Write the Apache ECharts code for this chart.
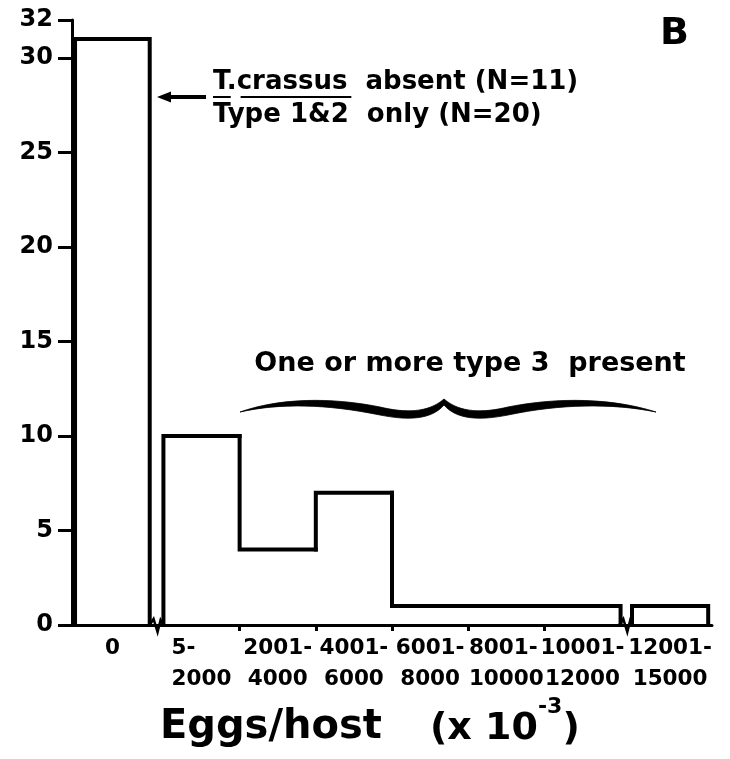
<!DOCTYPE html>
<html><head><meta charset="utf-8">
<script src="https://cdn.jsdelivr.net/npm/echarts@6/dist/echarts.min.js"></script>
<style>html,body{margin:0;padding:0;background:#fff}#c{width:730px;height:759px}</style>
</head><body><div id="c"></div>
<script>
// ---- data ----
const labelTop = ['0', '5-', '2001-', '4001-', '6001-', '8001-', '10001-', '12001-'];
const labelBottom = ['', '2000', '4000', '6000', '8000', '10000', '12000', '15000'];
const counts = [31, 10, 4, 7, 1, 1, 1, 1];
const segment = [0, 1, 1, 1, 1, 1, 1, 2];   // contiguous pieces between axis breaks
const yTickValues = [0, 5, 10, 15, 20, 25, 30, 32];

// ---- layout helpers (bin index -> axis units, with gaps at the axis breaks) ----
function binLeft(i) { return i === 0 ? 0.04 : (i < 7 ? i + 0.2 : i + 0.35); }
function binRight(i) { return i === 0 ? 1.02 : binLeft(i) + 1; }
function binCenter(i) { return (binLeft(i) + binRight(i)) / 2; }

const FONT = '"DejaVu Sans", sans-serif';
const n = counts.length;
const seriesData = counts.map((v, i) => {
  const prevSame = i > 0 && segment[i - 1] === segment[i];
  const nextSame = i < n - 1 && segment[i + 1] === segment[i];
  return [i, v, prevSame ? counts[i - 1] : 0, nextSame ? 1 : 0];
});
const centers = counts.map((_, i) => binCenter(i));

const chart = echarts.init(document.getElementById('c'), null, { renderer: 'canvas' });

const ctx = document.createElement('canvas').getContext('2d');
function tw(s, size) { ctx.font = 'bold ' + size + 'px "DejaVu Sans"'; return ctx.measureText(s).width; }

const annSize = 26;
const annX = 213;
const wT = tw('T', annSize), wDot = tw('.', annSize), wCr = tw('crassus', annSize);

const bracePath =
  'M240,412 C280,398 330,397 380,407 C405,413 428,413 444,399 ' +
  'C460,413 483,413 508,407 C558,397 612,398 656,412 ' +
  'C612,403 560,404 508,415 C478,421 456,419 444,405 ' +
  'C432,419 410,421 380,415 C326,404 280,403 240,412 Z';

const labelFont = 21.5;
const option = {
  animation: false,
  backgroundColor: '#fff',
  grid: { left: 72, right: 18, top: 20, bottom: 134, containLabel: false },
  xAxis: {
    type: 'value', min: 0, max: 8.4,
    axisLine: { show: true, onZero: false, lineStyle: { color: '#000', width: 3 } },
    axisTick: { show: true, customValues: [2.2, 3.2, 4.2, 5.2, 6.2], length: 6, lineStyle: { color: '#000', width: 3 } },
    splitLine: { show: false },
    axisLabel: {
      customValues: centers,
      hideOverlap: false,
      showMinLabel: true, showMaxLabel: true,
      margin: 8,
      formatter: function (val) {
        let idx = 0, best = 1e9;
        centers.forEach((c, i) => { const d = Math.abs(c - val); if (d < best) { best = d; idx = i; } });
        if (!labelBottom[idx]) return '{c|' + labelTop[idx] + '}';
        return '{t|' + labelTop[idx] + '}\n{b|' + labelBottom[idx] + '}';
      },
      rich: {
        c: { fontFamily: FONT, fontWeight: 'bold', fontSize: labelFont, color: '#000', lineHeight: 31 },
        t: { fontFamily: FONT, fontWeight: 'bold', fontSize: labelFont, color: '#000', lineHeight: 31, align: 'left' },
        b: { fontFamily: FONT, fontWeight: 'bold', fontSize: labelFont, color: '#000', lineHeight: 31 }
      }
    }
  },
  yAxis: {
    type: 'value', min: 0, max: 32, interval: 5,
    axisLine: { show: true, lineStyle: { color: '#000', width: 3 } },
    axisTick: { show: true, customValues: yTickValues, length: 14, lineStyle: { color: '#000', width: 3 } },
    splitLine: { show: false },
    axisLabel: {
      customValues: yTickValues, margin: 19,
      fontFamily: FONT, fontWeight: 'bold', fontSize: 24, color: '#000'
    }
  },
  series: [{
    type: 'custom',
    data: seriesData,
    encode: { x: 0, y: 1 },
    clip: false,
    renderItem: function (params, api) {
      const i = api.value(0);
      const v = api.value(1);
      const prevV = api.value(2);
      const nextSame = api.value(3) === 1;
      const xl = binLeft(i), xr = binRight(i);
      const pts = [api.coord([xl, prevV]), api.coord([xl, v]), api.coord([xr, v])];
      if (!nextSame) pts.push(api.coord([xr, 0]));
      return {
        type: 'polyline',
        shape: { points: pts },
        style: { stroke: '#000', lineWidth: 4, fill: null, lineJoin: 'miter', lineCap: 'square' }
      };
    }
  }, {
    type: 'custom',
    silent: true,
    data: [[0, 0]],
    clip: false,
    renderItem: function () {
      return { type: 'path', shape: { pathData: bracePath }, style: { fill: '#000', stroke: '#000', lineWidth: 0.8 } };
    }
  }],
  graphic: [
    // panel letter
    { type: 'text', x: 660, y: 34, style: { text: 'B', fontFamily: FONT, fontWeight: 'bold', fontSize: 38, fill: '#000', textVerticalAlign: 'middle' } },
    // arrow
    { type: 'line', shape: { x1: 206, y1: 97, x2: 168, y2: 97 }, style: { stroke: '#000', lineWidth: 4 } },
    { type: 'polygon', shape: { points: [[157, 97], [171, 91.5], [171, 102.5]] }, style: { fill: '#000' } },
    // annotation text
    { type: 'text', x: annX, y: 82, style: { text: 'T.crassus  absent (N=11)', fontFamily: FONT, fontWeight: 'bold', fontSize: annSize, fill: '#000', textVerticalAlign: 'middle' } },
    { type: 'text', x: annX, y: 115, style: { text: 'Type 1&2  only (N=20)', fontFamily: FONT, fontWeight: 'bold', fontSize: annSize, fill: '#000', textVerticalAlign: 'middle' } },
    { type: 'line', shape: { x1: annX, y1: 97, x2: annX + wT, y2: 97 }, style: { stroke: '#000', lineWidth: 2 } },
    { type: 'line', shape: { x1: annX + wT + wDot, y1: 97, x2: annX + wT + wDot + wCr, y2: 97 }, style: { stroke: '#000', lineWidth: 2 } },
    // type 3 label
    { type: 'text', x: 470, y: 364, style: { text: 'One or more type 3  present', fontFamily: FONT, fontWeight: 'bold', fontSize: 27, fill: '#000', textAlign: 'center', textVerticalAlign: 'middle' } },
    // axis title
    { type: 'text', x: 160, y: 728, style: { text: 'Eggs/host', fontFamily: FONT, fontWeight: 'bold', fontSize: 40, fill: '#000', textVerticalAlign: 'middle' } },
    { type: 'text', x: 430, y: 696, style: {
        text: '{a|(x 10}{s|-3}{a|)}',
        rich: {
          a: { fontFamily: FONT, fontWeight: 'bold', fontSize: 38, fill: '#000', lineHeight: 52, verticalAlign: 'bottom' },
          s: { fontFamily: FONT, fontWeight: 'bold', fontSize: 22, fill: '#000', lineHeight: 52, verticalAlign: 'top' }
        } } }
  ]
};
chart.setOption(option);

// axis break marks drawn at the gaps
const y0 = chart.convertToPixel({ gridIndex: 0 }, [0, 0])[1];
const breaks = [1.11, 7.275].map(u => chart.convertToPixel({ gridIndex: 0 }, [u, 0])[0]);
chart.setOption({
  graphic: option.graphic.concat(breaks.map(x => ({
    type: 'polyline',
    shape: { points: [[x - 7, y0], [x - 3, y0 - 6], [x + 1, y0 + 7], [x + 4, y0 - 5], [x + 7, y0]] },
    style: { stroke: '#000', lineWidth: 2.5, fill: null }
  })))
}, { replaceMerge: ['graphic'] });
</script>
</body></html>
